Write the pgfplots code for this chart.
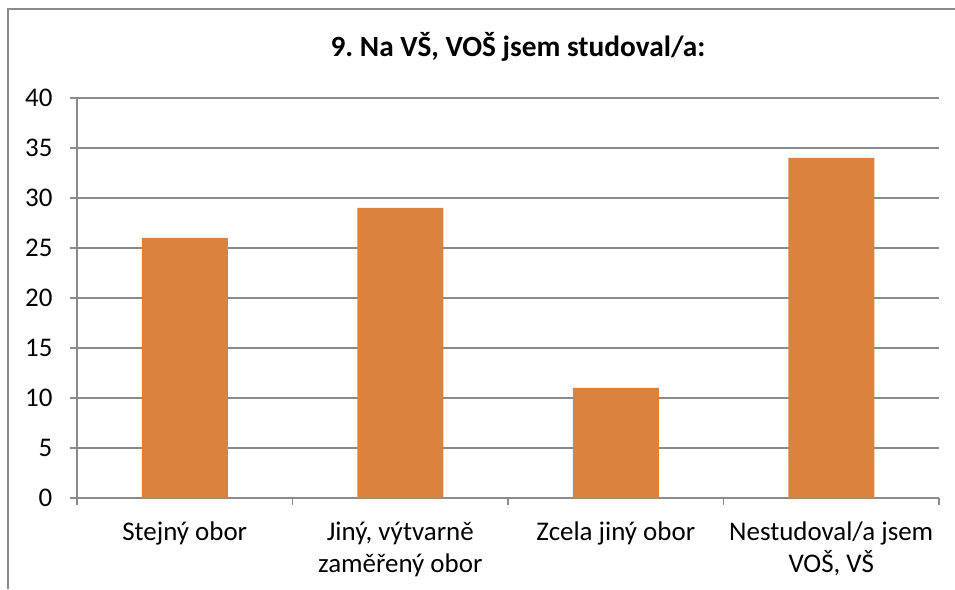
\documentclass[border=0pt]{standalone}
\usepackage{pgfplots}
\pgfplotsset{compat=1.18}
\usepackage{fontspec}
\setmainfont{Carlito}
\frenchspacing
\definecolor{barc}{HTML}{D9833F}
\definecolor{gridc}{HTML}{8A8A8A}
\begin{document}
\begin{tikzpicture}
\path[use as bounding box] (0,0) rectangle (716.25pt,441.75pt);
\draw[gridc, line width=0.9pt] (6pt,0) -- (6pt,435pt) -- (716.25pt,435pt);
\node[font=\fontsize{22}{26}\selectfont\bfseries, anchor=base, inner sep=0pt] at (388.5pt,399pt) {9. Na VŠ, VOŠ jsem studoval/a:};
\begin{axis}[
  at={(57.75pt,68.25pt)}, anchor=south west,
  scale only axis, width=646.5pt, height=300pt,
  xmin=-0.5, xmax=3.5, ymin=0, ymax=40,
  ytick={0,5,...,40},
  xtick={-0.5,0.5,1.5,2.5,3.5}, xticklabels={},
  extra x ticks={0,1,2,3},
  extra x tick labels={Stejný obor, {Jiný, výtvarně\\zaměřený obor}, Zcela jiný obor, {Nestudoval/a jsem\\VOŠ, VŠ}},
  extra x tick style={major tick length=0pt, grid=none},
  axis lines=left,
  axis line style={-, gridc, line width=0.9pt},
  ymajorgrids,
  grid style={gridc, line width=0.9pt},
  tick style={gridc, line width=0.9pt},
  tick align=outside, major tick length=5.25pt,
  /pgf/number format/assume math mode=true,
  ticklabel style={font=\fontsize{20.2}{24}\selectfont, text=black},
  yticklabel style={anchor=east, inner sep=0pt, xshift=-13pt},
  xticklabel style={anchor=north, inner sep=0pt, align=center, yshift=-17.5pt},
  ybar, bar width=64.5pt,
]
\addplot[fill=barc, draw=none] coordinates {(0,26) (1,29) (2,11) (3,34)};
\end{axis}
\end{tikzpicture}
\end{document}
